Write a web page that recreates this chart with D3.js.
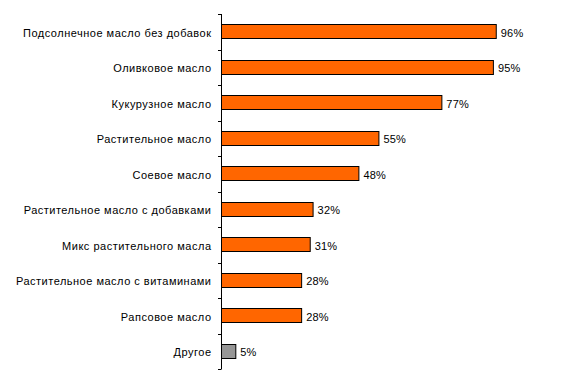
<!DOCTYPE html>
<html><head><meta charset="utf-8">
<script src="https://cdn.jsdelivr.net/npm/d3@7"></script>
<style>body{margin:0;background:#fff}svg text{font-family:"Liberation Sans",Arial,sans-serif;}</style>
</head><body><svg id="c" width="579" height="384"></svg>
<script>
const categories = ["Подсолнечное масло без добавок","Оливковое масло","Кукурузное масло","Растительное масло","Соевое масло","Растительное масло с добавками","Микс растительного масла","Растительное масло с витаминами","Рапсовое масло","Другое"];
const values = [96,95,77,55,48,32,31,28,28,5];
const valueLabels = ["96%","95%","77%","55%","48%","32%","31%","28%","28%","5%"];
const colors = ["#FF6600","#FF6600","#FF6600","#FF6600","#FF6600","#FF6600","#FF6600","#FF6600","#FF6600","#969696"];

const svg = d3.select("#c");
const x = d3.scaleLinear().domain([0,100]).range([221.5,507.7]);
const band = d3.scaleBand().domain(categories).range([14,369]);

const g = svg.append("g");
g.selectAll("rect").data(categories).join("rect")
  .attr("x", x(0)).attr("y", d=>Math.floor(band(d)+band.bandwidth()/2-7)+0.5)
  .attr("width", (d,i)=>x(values[i])-x(0)).attr("height",14)
  .attr("fill",(d,i)=>colors[i]).attr("stroke","#000").attr("stroke-width",1);

g.selectAll("text.v").data(categories).join("text").attr("class","v")
  .attr("x",(d,i)=>x(values[i])+4.5).attr("y",d=>band(d)+band.bandwidth()/2)
  .attr("dy","0.45em").attr("font-size",11).attr("letter-spacing","0.2px").text((d,i)=>valueLabels[i]);

g.selectAll("text.c").data(categories).join("text").attr("class","c")
  .attr("x",211.5).attr("y",d=>band(d)+band.bandwidth()/2)
  .attr("dy","0.45em").attr("text-anchor","end").attr("font-size",11).attr("letter-spacing","0.5px").text(d=>d);

const bounds = categories.map(d=>band(d)).concat([band.range()[1]]);
g.append("line").attr("x1",221.5).attr("x2",221.5).attr("y1",14).attr("y2",369).attr("stroke","#000");
g.selectAll("line.t").data(bounds).join("line").attr("class","t")
  .attr("x1",218).attr("x2",221.5).attr("y1",d=>Math.round(d)+0.5).attr("y2",d=>Math.round(d)+0.5).attr("stroke","#000");
</script></body></html>
